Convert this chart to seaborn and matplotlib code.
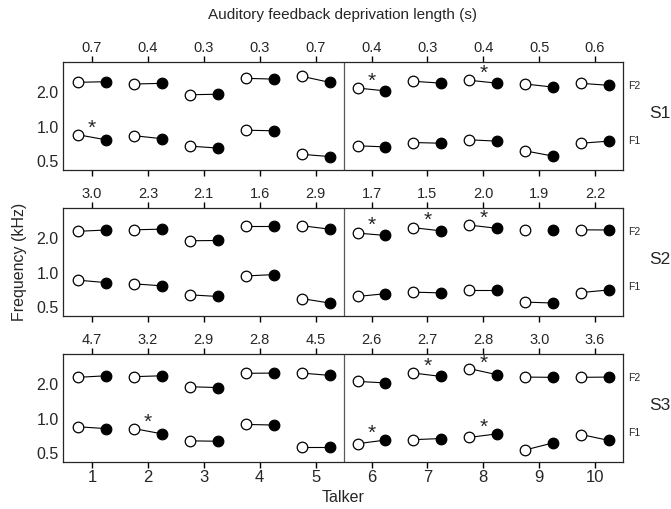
import numpy as np
import pandas as pd
import matplotlib
matplotlib.use('Agg')
import matplotlib.pyplot as plt
import seaborn as sns

sns.set_style('ticks')
plt.rcParams['font.family'] = ['Liberation Sans', 'DejaVu Sans']

#%% Data
talkers = np.arange(1, 11)
subjects = ['S1', 'S2', 'S3']

# deprivation length (s) shown on top of each panel
depr_s1 = [0.7, 0.4, 0.3, 0.3, 0.7, 0.4, 0.3, 0.4, 0.5, 0.6]
depr_s2 = [3.0, 2.3, 2.1, 1.6, 2.9, 1.7, 1.5, 2.0, 1.9, 2.2]
depr_s3 = [4.7, 3.2, 2.9, 2.8, 4.5, 2.6, 2.7, 2.8, 3.0, 3.6]

# formant frequencies (kHz): open = with feedback, filled = deprived
f2_open_s1 = [2.39, 2.31, 1.86, 2.59, 2.70, 2.13, 2.44, 2.49, 2.31, 2.34]
f2_fill_s1 = [2.42, 2.34, 1.88, 2.55, 2.39, 2.01, 2.35, 2.35, 2.17, 2.25]
f1_open_s1 = [0.83, 0.815, 0.66, 0.91, 0.56, 0.665, 0.71, 0.75, 0.60, 0.70]
f1_fill_s1 = [0.75, 0.767, 0.635, 0.90, 0.535, 0.65, 0.70, 0.73, 0.54, 0.73]

f2_open_s2 = [2.25, 2.32, 1.86, 2.52, 2.52, 2.17, 2.42, 2.55, 2.31, 2.32]
f2_fill_s2 = [2.31, 2.35, 1.87, 2.52, 2.35, 2.07, 2.27, 2.39, 2.31, 2.31]
f1_open_s2 = [0.84, 0.78, 0.625, 0.915, 0.58, 0.605, 0.66, 0.69, 0.54, 0.655]
f1_fill_s2 = [0.80, 0.75, 0.605, 0.94, 0.53, 0.64, 0.65, 0.69, 0.53, 0.69]

f2_open_s3 = [2.25, 2.28, 1.86, 2.44, 2.45, 2.07, 2.45, 2.68, 2.26, 2.25]
f2_fill_s3 = [2.32, 2.32, 1.83, 2.45, 2.34, 2.01, 2.29, 2.37, 2.25, 2.26]
f1_open_s3 = [0.83, 0.80, 0.625, 0.87, 0.55, 0.59, 0.64, 0.67, 0.52, 0.71]
f1_fill_s3 = [0.80, 0.72, 0.62, 0.86, 0.55, 0.635, 0.655, 0.72, 0.60, 0.63]

# significant differences (talker numbers)
sig_f1 = {'S1': [1], 'S2': [], 'S3': [2, 6, 8]}
sig_f2 = {'S1': [6, 8], 'S2': [6, 7, 8], 'S3': [7, 8]}
# pairs drawn without connecting line
no_line_f2 = {'S1': [], 'S2': [9], 'S3': []}

depr = {'S1': depr_s1, 'S2': depr_s2, 'S3': depr_s3}
vals = {
    'S1': (f1_open_s1, f1_fill_s1, f2_open_s1, f2_fill_s1),
    'S2': (f1_open_s2, f1_fill_s2, f2_open_s2, f2_fill_s2),
    'S3': (f1_open_s3, f1_fill_s3, f2_open_s3, f2_fill_s3),
}

#%% Figure
fig = plt.figure(figsize=(6.71, 5.10), dpi=100)
left, width = 63 / 671, 560 / 671
tops = [63, 209, 355]
h = 108 / 510
off = 0.25

for i, subj in enumerate(subjects):
    ax = fig.add_axes([left, 1 - (tops[i] + 108) / 510, width, h])
    f1o, f1f, f2o, f2f = vals[subj]
    rows = []
    for form, o, f in (('F1', f1o, f1f), ('F2', f2o, f2f)):
        for t, vo, vf in zip(talkers, o, f):
            rows.append(dict(talker=t, formant=form, cond='open', x=t - off, freq=vo))
            rows.append(dict(talker=t, formant=form, cond='filled', x=t + off, freq=vf))
    df = pd.DataFrame(rows)

    # connecting lines
    for (t, form), g in df.groupby(['talker', 'formant']):
        if form == 'F2' and t in no_line_f2[subj]:
            continue
        ax.plot(g['x'], g['freq'], color='k', lw=0.8, zorder=1)

    sns.scatterplot(data=df[df['cond'] == 'open'], x='x', y='freq', color='white',
                    edgecolor='k', linewidth=0.9, s=58, ax=ax, zorder=3, legend=False)
    sns.scatterplot(data=df[df['cond'] == 'filled'], x='x', y='freq', color='k',
                    edgecolor='k', linewidth=0.9, s=58, ax=ax, zorder=3, legend=False)

    # asterisks
    for form, sig in (('F1', sig_f1[subj]), ('F2', sig_f2[subj])):
        for t in sig:
            g = df[(df['talker'] == t) & (df['formant'] == form)]
            ymid = np.sqrt(g['freq'].prod())
            ax.annotate('*', xy=(t, ymid), xytext=(0, 0), textcoords='offset points',
                        ha='center', va='bottom', fontsize=15)

    ax.axvline(5.5, color='0.35', lw=0.9)
    ax.set_yscale('log')
    ax.set_ylim(0.408, 3.6)
    ax.set_xlim(0.48, 10.5)
    ax.set_yticks([0.5, 1.0, 2.0], labels=['0.5', '1.0', '2.0'])
    ax.yaxis.set_minor_locator(matplotlib.ticker.NullLocator())
    ax.tick_params(axis='y', left=False, length=0, pad=3, labelsize=11.5)
    ax.set_xticks(talkers)
    ax.xaxis.set_ticks_position('bottom')
    ax.tick_params(axis='x', which='major', bottom=True, direction='out', length=4,
                   width=1.0, color='k', labelsize=12, pad=1)
    if i < 2:
        ax.set_xticklabels([])
    ax.set_xlabel('')
    ax.set_ylabel('')
    for sp in ax.spines.values():
        sp.set_visible(True)
        sp.set_linewidth(0.9)
        sp.set_color('0.15')

    sec = ax.secondary_xaxis('top')
    sec.set_xticks(talkers, labels=[f'{v:.1f}' for v in depr[subj]])
    sec.tick_params(top=True, direction='out', length=4, width=1.0, color='k',
                    labelsize=10.5, pad=2)
    sec.spines['top'].set_visible(False)

    ax.text(1.009, 2.26, 'F2', transform=ax.get_yaxis_transform(), fontsize=7.5,
            ha='left', va='center')
    ax.text(1.009, 0.74, 'F1', transform=ax.get_yaxis_transform(), fontsize=7.5,
            ha='left', va='center')
    ax.text(1.066, 0.53, subj, transform=ax.transAxes, fontsize=12.5,
            ha='center', va='center')

fig.text(343 / 671, 1 - 15 / 510, 'Auditory feedback deprivation length (s)',
         ha='center', va='center', fontsize=11)
fig.text(343 / 671, 1 - 498 / 510, 'Talker', ha='center', va='center', fontsize=11.5)
fig.text(20 / 671, 1 - 262 / 510, 'Frequency (kHz)', ha='center', va='center',
         rotation=90, fontsize=11.5)

fig.savefig('out.png', dpi=100)
